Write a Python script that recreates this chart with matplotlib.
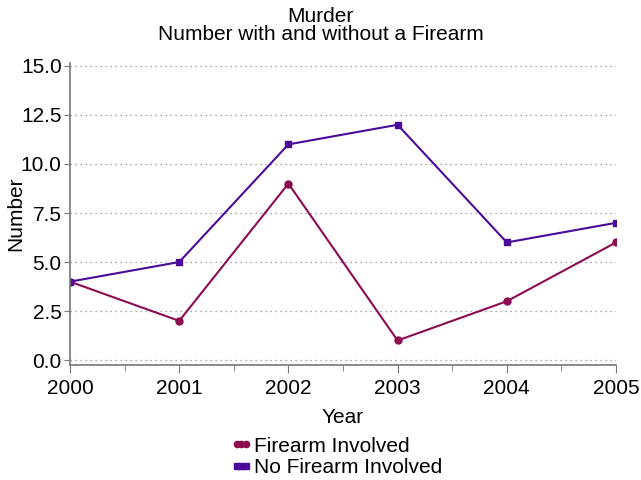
import numpy as np
import matplotlib
matplotlib.use("Agg")
import matplotlib.pyplot as plt
from matplotlib.ticker import MultipleLocator

# Data
years = [2000, 2001, 2002, 2003, 2004, 2005]
firearm = [4, 2, 9, 1, 3, 6]
no_firearm = [4, 5, 11, 12, 6, 7]

plt.rcParams['font.family'] = ['Liberation Sans', 'DejaVu Sans']

fig = plt.figure(figsize=(6.41, 4.8), dpi=100)
ax = fig.add_axes([70 / 641, (480 - 365) / 480, (616 - 70) / 641, (365 - 63) / 480])

ax.plot(years, firearm, '-o', color='#8c0a50', lw=1.5, ms=5, label='Firearm Involved')
ax.plot(years, no_firearm, '-s', color='#4b0a9a', lw=1.5, ms=5, label='No Firearm Involved')

ax.set_xlim(2000, 2005)
ax.set_ylim(-0.25, 15.15)
ax.yaxis.set_major_locator(MultipleLocator(2.5))
ax.yaxis.set_major_formatter(matplotlib.ticker.FormatStrFormatter('%.1f'))
ax.xaxis.set_major_locator(MultipleLocator(1))
ax.xaxis.set_minor_locator(MultipleLocator(0.5))
ax.grid(axis='y', linestyle=(0, (1, 3)), color='#888888', lw=0.9)
ax.set_axisbelow(True)

for s in ['top', 'right']:
    ax.spines[s].set_visible(False)
for s in ['left', 'bottom']:
    ax.spines[s].set_color('#777777')
    ax.spines[s].set_linewidth(1.2)
ax.tick_params(axis='both', which='both', color='#777777', labelsize=15, direction='out')
ax.tick_params(axis='x', which='major', length=6, pad=4)
ax.tick_params(axis='x', which='minor', length=4)
ax.tick_params(axis='y', length=4, pad=2)

ax.set_xlabel('Year', fontsize=15, labelpad=7)
ax.set_ylabel('Number', fontsize=15)
ax.yaxis.set_label_coords(-45 / 546, 0.5)
fig.text(0.5, 0.986, 'Murder\nNumber with and without a Firearm', ha='center', va='top',
         fontsize=15, linespacing=0.95)

fig.legend(loc='center', bbox_to_anchor=(0.525, 0.048), frameon=False, fontsize=15,
           numpoints=3, handlelength=1.0, handletextpad=0.1, labelspacing=0.12,
           markerscale=0.9, borderaxespad=0)

fig.savefig('out.png', dpi=100)
